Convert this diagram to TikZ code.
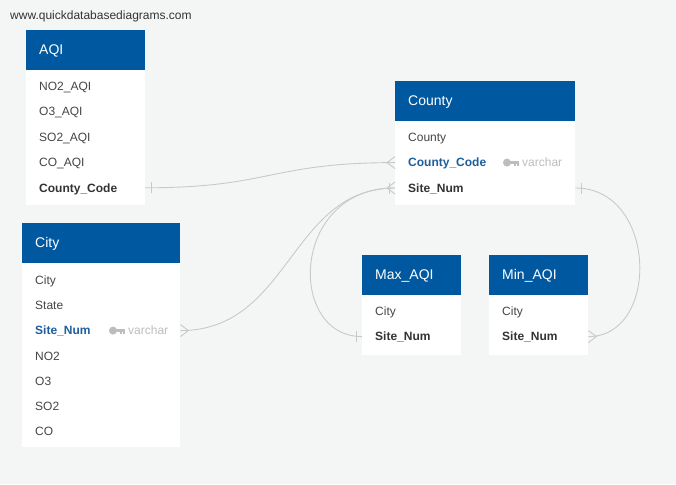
\documentclass[tikz,border=0pt]{standalone}
\usepackage{fontspec}
\setmainfont{Liberation Sans}
\usetikzlibrary{calc}
\usetikzlibrary{positioning}
\definecolor{qdhead}{HTML}{0059A0}
\definecolor{qdblue}{HTML}{1E5E9E}
\definecolor{qdtext}{HTML}{454545}
\definecolor{qdbold}{HTML}{333333}
\definecolor{qdgray}{HTML}{BDBDBD}
\definecolor{qdline}{HTML}{C9C9C9}
\definecolor{qdback}{HTML}{F4F5F5}

\tikzset{
  tablebody/.style={fill=white, anchor=north west, inner sep=0pt},
  tablehead/.style={fill=qdhead, text=white, anchor=south west, minimum height=40pt,
    inner xsep=13pt, inner ysep=0pt, text width=#1, align=left,
    text height=10pt, text depth=0pt, font=\fontsize{14}{16}\selectfont},
  field/.style={inner xsep=13pt, inner ysep=0pt, text width=#1, align=left,
    minimum height=25pt, text height=8.6pt, text depth=0pt, text=qdtext,
    font=\fontsize{12}{14}\selectfont},
  cityfield/.style={field=#1, minimum height=24.8pt},
  boldfield/.style={text=qdbold, font=\fontsize{12}{14}\selectfont\bfseries},
  keyfield/.style={text=qdblue, font=\fontsize{12}{14}\selectfont\bfseries},
  typetag/.style={inner sep=0pt, text height=8.6pt, text depth=0pt, text=qdgray,
    font=\fontsize{12}{14}\selectfont},
  link/.style={draw=qdline, line width=0.9pt},
  crowfoot/.pic={\draw[link] (0,-6) -- (8,0) -- (0,6);},
  onebar/.pic={\draw[link] (6,-5.5) -- (6,5.5);},
  keyicon/.pic={
    \fill[qdgray] (-12,0) circle (4);
    \fill[qdgray] (-9,-1.3) rectangle (0,1.3);
    \fill[qdgray] (-4.5,1.3) rectangle (-2.8,3.8);
    \fill[qdgray] (-1.6,1.3) rectangle (0,3.4);
  },
}

\begin{document}
\begin{tikzpicture}[x=1pt, y=-1pt]
\fill[qdback] (0,0) rectangle (676,484);
\useasboundingbox (0,0) rectangle (676,484);

\node[anchor=west, inner sep=0pt, text=qdbold, font=\fontsize{12}{14}\selectfont]
  (site) at (10,16) {www.quickdatabasediagrams.com};

% AQI
\node[tablebody, minimum width=119pt, minimum height=135pt] (aqi) at (26,70) {};
\node[tablehead=93pt] (aqi-head) at (aqi.north west) {AQI};
\node[field=93pt, below right=3.5pt and 0pt of aqi.north west] (aqi-no2) {NO2\_AQI};
\node[field=93pt, below=0pt of aqi-no2] (aqi-o3) {O3\_AQI};
\node[field=93pt, below=0pt of aqi-o3] (aqi-so2) {SO2\_AQI};
\node[field=93pt, below=0pt of aqi-so2] (aqi-co) {CO\_AQI};
\node[field=93pt, boldfield, below=0pt of aqi-co] (aqi-cc) {County\_Code};

% County
\node[tablebody, minimum width=180pt, minimum height=84pt] (county) at (395,121) {};
\node[tablehead=154pt] (county-head) at (county.north west) {County};
\node[field=154pt, below right=3.5pt and 0pt of county.north west] (county-name) {County};
\node[field=154pt, keyfield, below=0pt of county-name] (county-cc) {County\_Code};
\node[field=154pt, boldfield, below=0pt of county-cc] (county-sn) {Site\_Num};
\node[typetag, left=13pt of county-cc.east] (county-type) {varchar};
\pic at ([xshift=-3pt]county-type.west) {keyicon};

% City
\node[tablebody, minimum width=158pt, minimum height=184pt] (city) at (22,263) {};
\node[tablehead=132pt] (city-head) at (city.north west) {City};
\node[cityfield=132pt, below right=4.6pt and 0pt of city.north west] (city-name) {City};
\node[cityfield=132pt, below=0pt of city-name] (city-state) {State};
\node[cityfield=132pt, keyfield, below=0pt of city-state] (city-sn) {Site\_Num};
\node[cityfield=132pt, below=0pt of city-sn] (city-no2) {NO2};
\node[cityfield=132pt, below=0pt of city-no2] (city-o3) {O3};
\node[cityfield=132pt, below=0pt of city-o3] (city-so2) {SO2};
\node[cityfield=132pt, below=0pt of city-so2] (city-co) {CO};
\node[typetag, left=12pt of city-sn.east] (city-type) {varchar};
\pic at ([xshift=-3pt]city-type.west) {keyicon};

% Max_AQI
\node[tablebody, minimum width=99pt, minimum height=60pt] (max) at (362,295) {};
\node[tablehead=73pt] (max-head) at (max.north west) {Max\_AQI};
\node[field=73pt, below right=3.5pt and 0pt of max.north west] (max-city) {City};
\node[field=73pt, boldfield, below=0pt of max-city] (max-sn) {Site\_Num};

% Min_AQI
\node[tablebody, minimum width=99pt, minimum height=60pt] (min) at (489,295) {};
\node[tablehead=73pt] (min-head) at (min.north west) {Min\_AQI};
\node[field=73pt, below right=3.5pt and 0pt of min.north west] (min-city) {City};
\node[field=73pt, boldfield, below=0pt of min-city] (min-sn) {Site\_Num};

% relations
\draw[link] (aqi-cc.east) .. controls +(125,0) and +(-125,0) .. (county-cc.west);
\draw[link] (city-sn.east) .. controls +(110,0) and +(-105,0) .. (county-sn.west);
\draw[link] (max-sn.west) .. controls +(-75,0) and +(-105,0) .. (county-sn.west);
\draw[link] (min-sn.east) .. controls +(72,0) and +(82,0) .. (county-sn.east);

\pic at (aqi-cc.east) {onebar};
\pic[xscale=-1] at (county-cc.west) {crowfoot};
\pic at (city-sn.east) {crowfoot};
\pic[xscale=-1] at (county-sn.west) {crowfoot};
\pic[xscale=-1] at (county-sn.west) {onebar};
\pic[xscale=-1] at (max-sn.west) {onebar};
\pic at (min-sn.east) {crowfoot};
\pic at (county-sn.east) {onebar};
\end{tikzpicture}
\end{document}
